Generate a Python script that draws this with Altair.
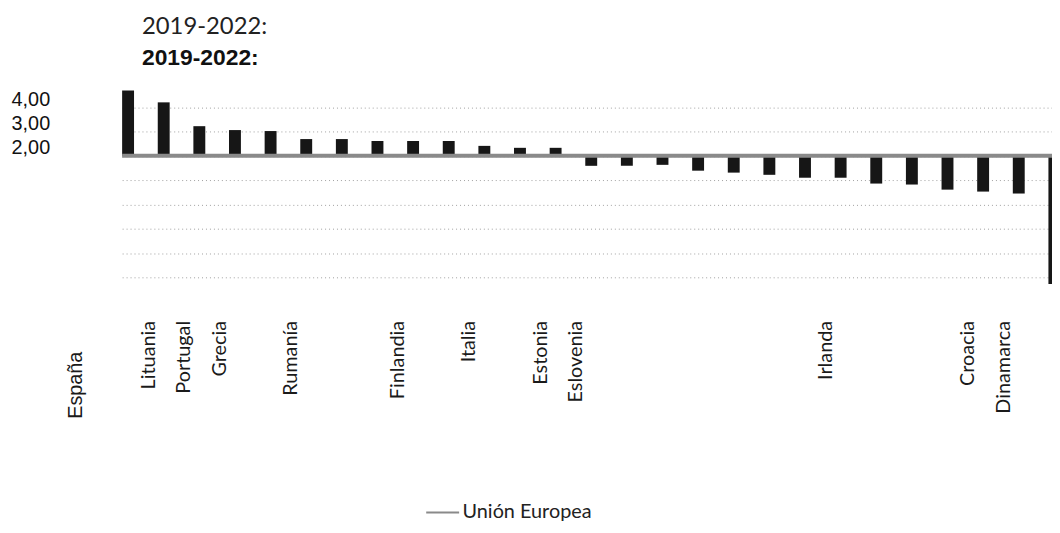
import altair as alt
import pandas as pd

# Countries in plotted order (left to right)
paises = ["España", "Lituania", "Portugal", "Grecia", "Chipre", "Rumanía", "Letonia",
          "Eslovaquia", "Finlandia", "Bulgaria", "Italia", "Malta", "Estonia", "Eslovenia",
          "Francia", "Bélgica", "Austria", "Polonia", "Hungría", "Chequia", "Irlanda",
          "Países Bajos", "Alemania", "Suecia", "Croacia", "Dinamarca", "Luxemburgo"]
valores = [4.69, 4.20, 3.22, 3.06, 3.02, 2.69, 2.69, 2.61, 2.61, 2.61, 2.41, 2.33, 2.33,
           1.59, 1.59, 1.63, 1.39, 1.31, 1.22, 1.10, 1.10, 0.86, 0.82, 0.61, 0.53, 0.45, -3.27]
etiquetas_visibles = ["España", "Lituania", "Portugal", "Grecia", "Rumanía", "Finlandia",
                      "Italia", "Estonia", "Eslovenia", "Irlanda", "Croacia", "Dinamarca"]
serie_ue = ["Unión Europea"]
valor_ue = [2.0]
ticks_y = [-3, -2, -1, 0, 1, 2, 3, 4]
titulo = "2019-2022:"

df = pd.DataFrame({"pais": paises, "valor": valores})
df_ue = pd.DataFrame({"serie": serie_ue, "valor": valor_ue})

cond_es = "datum.value === 'España'"

x_axis = alt.Axis(
    values=etiquetas_visibles, title=None, labelAngle=-90,
    labelFont={"condition": {"test": cond_es, "value": "Liberation Sans"}, "value": "Lato"},
    labelFontSize={"condition": {"test": cond_es, "value": 20}, "value": 20},
    labelOffset={"condition": {"test": cond_es, "value": -52}, "value": -15},
    labelPadding={"condition": {"test": cond_es, "value": 62}, "value": 31},
    ticks=False, tickSize=0, domain=False, grid=False, labelColor="#1a1a1a",
    labelOverlap=False,
)

y_axis = alt.Axis(
    values=ticks_y, title=None,
    labelExpr="datum.value >= 2 ? replace(format(datum.value, '.2f'), '.', ',') : ''",
    grid=True, gridColor="#a0a0a0", gridDash=[1, 3], gridWidth=1,
    ticks=False, tickSize=0, domain=False,
    labelFont="Liberation Sans", labelFontSize=20, labelPadding=73, labelOffset=-8,
    labelColor="#111111",
)

y_scale = alt.Scale(domain=[-3.5, 4.8], nice=False, zero=False)

bars = alt.Chart(df).mark_bar(color="#161616").encode(
    x=alt.X("pais:N", sort=paises,
            scale=alt.Scale(paddingInner=1 - 12 / 35.9, paddingOuter=0, range=[0, 945.4]),
            axis=x_axis),
    y=alt.Y("valor:Q", scale=y_scale, axis=y_axis),
    y2=alt.datum(2.0),
)

rule = alt.Chart(df_ue).mark_rule(size=4).encode(
    y=alt.Y("valor:Q", scale=y_scale, axis=y_axis),
    color=alt.Color("serie:N", scale=alt.Scale(domain=serie_ue, range=["#8a8a8a"]),
                    legend=alt.Legend(title=None, orient="none", legendX=305, legendY=410,
                                      labelFont="Lato", labelFontSize=20, labelColor="#222222",
                                      symbolType="stroke", symbolSize=1100,
                                      symbolStrokeWidth=2, labelOffset=2)),
)

chart = alt.layer(bars, rule).properties(
    width=937, height=203.35,
    autosize=alt.AutoSizeParams(type="none"),
    padding={"left": 115, "top": 78.4, "right": 0, "bottom": 235},
    title=alt.TitleParams(
        text=titulo, subtitle=titulo, anchor="start", frame="group", dx=20,
        font="Lato", fontSize=24, fontWeight="normal", color="#222222",
        subtitleFont="Liberation Sans", subtitleFontSize=23, subtitleFontWeight="bold",
        subtitleColor="#111111", subtitlePadding=8, offset=18,
    ),
).configure_view(stroke=None)

chart.save("out.html", embed_options={"renderer": "svg", "actions": False})
